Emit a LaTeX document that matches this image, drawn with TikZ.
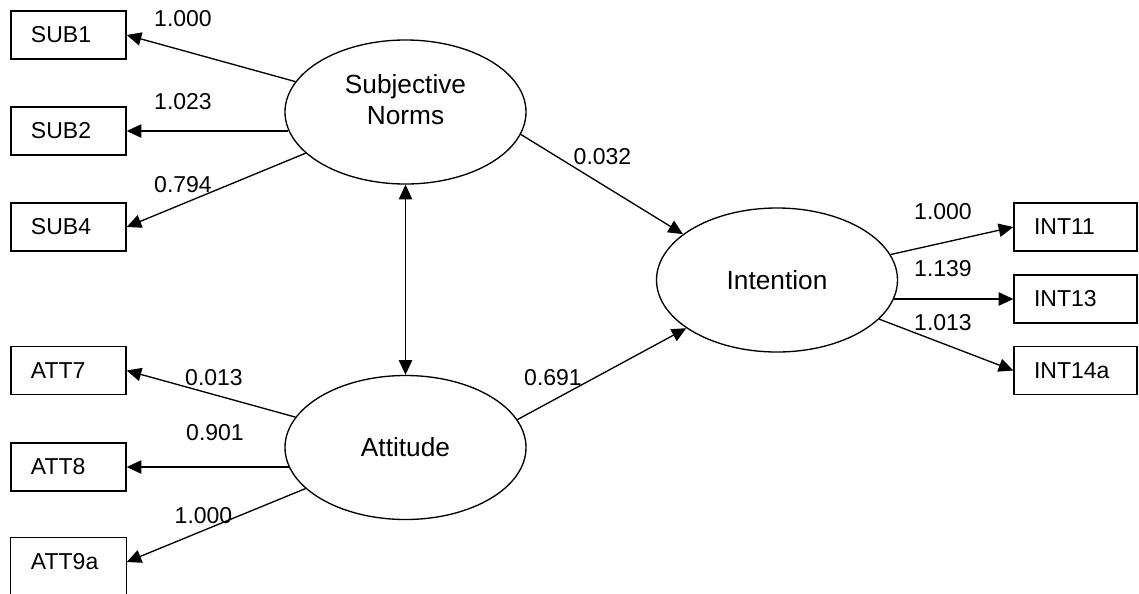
\documentclass[tikz,border=0pt]{standalone}
\usepackage{fontspec}
\setmainfont{Liberation Sans}
\usetikzlibrary{arrows.meta,shapes.geometric}
\tikzset{
  >={Triangle[length=11pt,width=10pt]},
  obs/.style={draw, rectangle, minimum height=36pt, inner xsep=15pt, inner ysep=0pt,
    align=left, font=\fontsize{17.25}{20.7}\selectfont},
  obsleft/.style={obs, text width=56.25pt},
  obsright/.style={obs, text width=62.25pt},
  lat/.style={draw, ellipse, minimum width=180.75pt, minimum height=108pt, inner sep=0pt,
    font=\fontsize{19.7}{23.6}\selectfont},
  lattext/.style={inner sep=0pt, align=center, font=\fontsize{19.7}{23.6}\selectfont},
  coef/.style={inner sep=0pt, font=\fontsize{17.25}{20.7}\selectfont},
  link/.style={->},
  corr/.style={<->},
}
\begin{document}
\begin{tikzpicture}[x=0.75pt, y=-0.75pt, line width=1pt]
\fill[white] (0,0) rectangle (1139,593);
\useasboundingbox (0,0) rectangle (1139,593);

% latent variables
\node[lat] (sn) at (405.5,112) {};
\node[lattext] (sntext) at (405.5,99.5) {Subjective\\Norms};
\node[lat] (att) at (405.5,447.5) {Attitude};
\node[lat] (int) at (777,280) {Intention};

% indicators of Subjective Norms
\node[obsleft] (sub1) at (68.5,35) {SUB1};
\node[obsleft] (sub2) at (68.5,131) {SUB2};
\node[obsleft] (sub4) at (68.5,227) {SUB4};

% indicators of Attitude
\node[obsleft] (att7) at (68.5,370.5) {ATT7};
\node[obsleft] (att8) at (68.5,467) {ATT8};
\node[obsleft, draw=none] (att9a) at (68.5,562) {ATT9a};
\draw ([yshift=-9pt]att9a.south west) -- (att9a.north west)
  -- (att9a.north east) -- ([yshift=-9pt]att9a.south east);

% indicators of Intention
\node[obsright] (int11) at (1075.5,227) {INT11};
\node[obsright] (int13) at (1075.5,299) {INT13};
\node[obsright] (int14a) at (1075.5,370.5) {INT14a};

% loadings
\draw[link] (sn) -- (sub1.east);
\draw[link] (sn.189 |- sub2.east) -- (sub2.east);
\draw[link] (sn) -- (sub4.east);
\draw[link] (att) -- (att7.east);
\draw[link] (att.190 |- att8.east) -- (att8.east);
\draw[link] (att) -- (att9a.east);
\draw[link] (int) -- (int11.west);
\draw[link] (int.-9 |- int13.west) -- (int13.west);
\draw[link] (int) -- (int14a.west);

% structural paths and covariance
\draw[link] (sn.-11) -- (int.154);
\draw[link] (att.14) -- (int.208);
\draw[corr] (sn.south) -- (att.north);

% coefficients
\node[coef] (c1) at (183,18.5) {1.000};
\node[coef] (c2) at (183,102) {1.023};
\node[coef] (c3) at (183,185) {0.794};
\node[coef] (c4) at (214,378) {0.013};
\node[coef] (c5) at (215,433) {0.901};
\node[coef] (c6) at (203.5,516) {1.000};
\node[coef] (c7) at (602.5,156.5) {0.032};
\node[coef] (c8) at (553,377.5) {0.691};
\node[coef] (c9) at (943,212) {1.000};
\node[coef] (c10) at (943,268.5) {1.139};
\node[coef] (c11) at (943,323) {1.013};
\end{tikzpicture}
\end{document}
